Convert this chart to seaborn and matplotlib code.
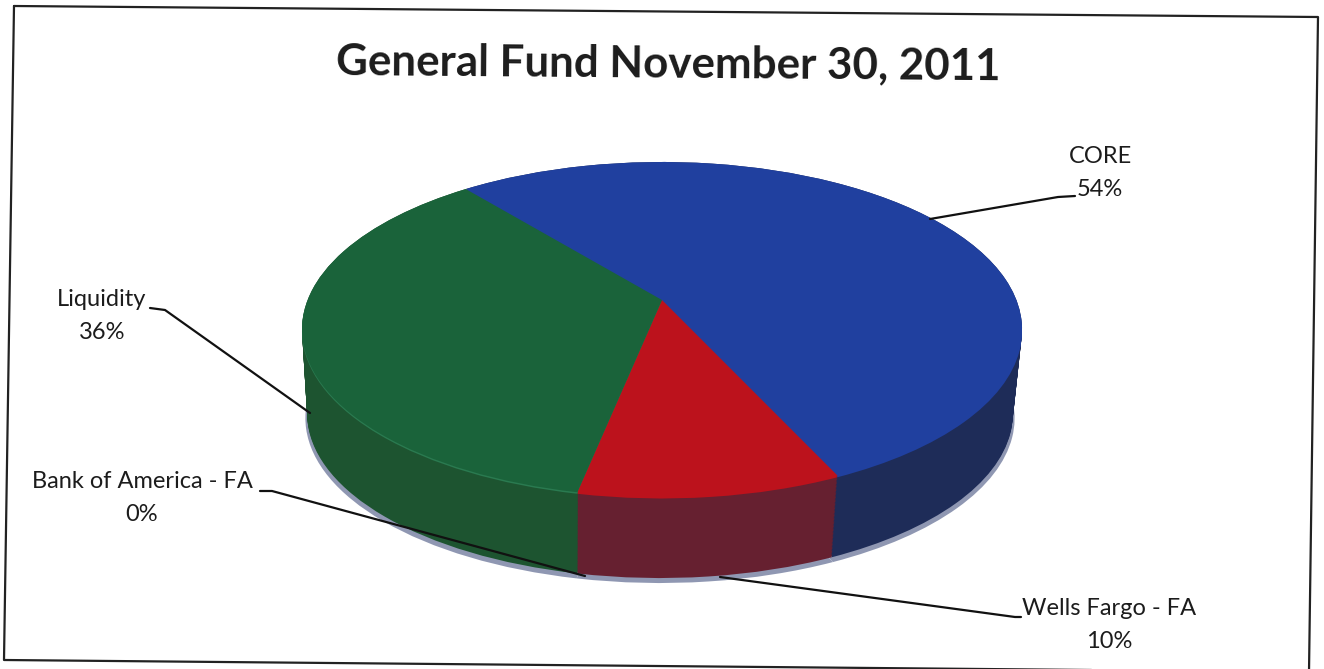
import numpy as np
import matplotlib
matplotlib.use("Agg")
import matplotlib.pyplot as plt
from matplotlib.transforms import Transform
import seaborn as sns

# Fund shares, in pie order (clockwise from the back left)
categories = ["CORE", "Wells Fargo - FA", "Bank of America - FA", "Liquidity"]
shares = [54, 10, 0, 36]
top_colors = ["#20409f", "#bc121c", "#bc121c", "#1a633a"]
side_colors = ["#1e2c58", "#662030", "#662030", "#1d5430"]
rim_colors = ["#20409f", "#bc121c", "#bc121c", "#2a7a50"]
shadow_color = "#8f97b2"
title_text = "General Fund November 30, 2011"


class TiltedDisc(Transform):
    """Maps the unit pie into a receding disc, drawn in figure pixels."""
    input_dims = output_dims = 2

    def __init__(self, drop=0.0, scale=1.0, cx=662.0):
        super().__init__()
        self.drop, self.scale, self.cx = drop, scale, cx

    def transform_non_affine(self, values):
        x, y = np.asarray(values).T
        w = 1 + 0.176 * y
        px = self.cx + self.scale * 354.4 * x / w
        py = 300 + self.drop - self.scale * 162.3 * y / w
        return np.column_stack([px, py])


sns.set_theme(style="white")
plt.rcParams["font.family"] = ["Lato", "DejaVu Sans"]
fig, ax = plt.subplots(figsize=(13.24, 6.69), dpi=100)
fig.subplots_adjust(0, 0, 1, 1)


def draw_disc(colors, **geometry):
    wedges, _ = ax.pie(shares, colors=sns.color_palette(colors), startangle=129,
                       counterclock=False, wedgeprops={"linewidth": 0})
    for wedge in wedges:
        wedge.set_transform(TiltedDisc(**geometry) + ax.transData)


# Shadow, then the side wall as a stack of discs, then the rim and top face
draw_disc([shadow_color] * 4, drop=89, scale=0.985, cx=660)
for t in np.linspace(1, 0, 60):
    draw_disc(side_colors, drop=85 * t, scale=1 - 0.02 * t, cx=662 - 2 * t)
draw_disc(rim_colors, drop=1.5)
draw_disc(top_colors)

ax.set_aspect("auto")
ax.set_xlim(0, 1324)
ax.set_ylim(669, 0)
ax.axis("off")

ink = "#1c1c1c"
# Leader lines from each slice to its label
leaders = [
    ([930, 1058, 1075], [219, 197, 196]),
    ([310, 165, 150], [413, 310, 308]),
    ([585, 272, 260], [576, 491, 491]),
    ([720, 1015, 1021], [577, 617, 617]),
]
for xs, ys in leaders:
    ax.plot(xs, ys, color="#111111", lw=1.6, solid_capstyle="round")

labels = [
    (1100, 173, "CORE", 54),
    (102, 316, "Liquidity", 36),
    (142, 498, "Bank of America - FA", 0),
    (1109, 625, "Wells Fargo - FA", 10),
]
for x, y, name, share in labels:
    ax.text(x, y, f"{name}\n{share}%", ha="center", va="center", fontsize=17,
            color=ink, linespacing=1.65)

ax.text(668, 64, title_text, ha="center", va="center", fontsize=31.6,
        fontweight="bold", color=ink, rotation=-0.45, rotation_mode="anchor")

# Chart frame, which sits very slightly askew on the page
ax.plot([14, 1318, 1309, 4, 14], [6, 17, 672, 660, 6], color="#222222", lw=1.6,
        clip_on=False)

fig.savefig("out.png", dpi=100, facecolor="white")
